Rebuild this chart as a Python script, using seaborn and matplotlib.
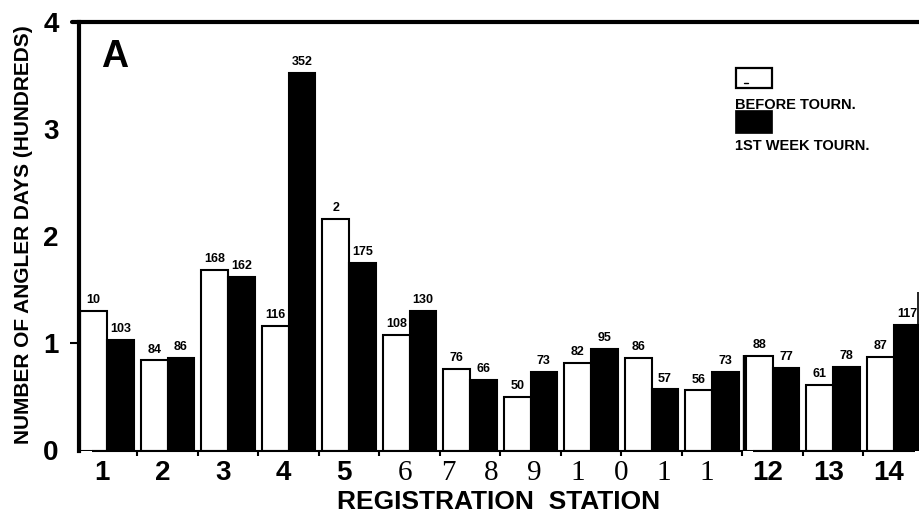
import matplotlib
matplotlib.use("Agg")
import matplotlib.pyplot as plt
from matplotlib.patches import Rectangle
from matplotlib.lines import Line2D
import numpy as np
import pandas as pd
import seaborn as sns

# Angler days per registration station (hundreds)
stations = [str(i) for i in range(1, 15)]
periods = ["BEFORE TOURN.", "1ST WEEK TOURN."]
before_days = [130, 84, 168, 116, 216, 108, 76, 50, 82, 86, 56, 88, 61, 87]
week1_days = [103, 86, 162, 352, 175, 130, 66, 73, 95, 57, 73, 77, 78, 117]
before_text = ["10", "84", "168", "116", "2", "108", "76", "50", "82", "86", "56", "88", "61", "87"]
week1_text = ["103", "86", "162", "352", "175", "130", "66", "73", "95", "57", "73", "77", "78", "117"]
sans_ticks = ["1", "2", "3", "4", "5", "12", "13", "14"]
serif_ticks = ["6", "7", "8", "9", "1", "0", "1", "1"]
y_ticks = [0, 1, 2, 3, 4]

df = pd.DataFrame({
    "station": stations * 2,
    "period": [periods[0]] * len(stations) + [periods[1]] * len(stations),
    "hundreds": np.array(before_days + week1_days) / 100.0,
})

sns.set_style("white")
plt.rcParams["font.family"] = ["Liberation Sans", "DejaVu Sans"]
plt.rcParams.update({
    "text.color": "black",
    "axes.labelcolor": "black",
    "xtick.color": "black",
    "ytick.color": "black",
})

W, H = 919, 521
fig = plt.figure(figsize=(W / 100, H / 100), dpi=100)
left, right, bottom, top = 79, 919, 450.5, 21.5
ax = fig.add_axes([left / W, 1 - bottom / H, (right - left) / W, (bottom - top) / H])

sns.barplot(data=df, x="station", y="hundreds", hue="period", order=stations,
            hue_order=periods, palette=["white", "black"], saturation=1,
            edgecolor="black", linewidth=1.5, width=0.88, legend=False, ax=ax)

for cont, labels in zip(ax.containers, [before_text, week1_text]):
    ax.bar_label(cont, labels=labels, padding=3.5, fontsize=9, fontweight="bold",
                 color="black")

ax.set_xlim(-0.463, 13.42)
ax.set_ylim(0, 4)

# frame: heavy left and top rules, broken baseline
for s in ["top", "right", "bottom"]:
    ax.spines[s].set_visible(False)
ax.spines["left"].set_linewidth(3)
ax.spines["left"].set_color("black")
ax.add_line(Line2D([-0.0083, 1.0], [1, 1], transform=ax.transAxes, color="black",
                   lw=3, clip_on=False))
ax.hlines(0, -0.248, 10.51, color="black", lw=1.5, clip_on=False)
ax.hlines(0, 10.68, 13.36, color="black", lw=1.5, clip_on=False)
ax.vlines(10.53, 0, 0.89, color="black", lw=1.7)
ax.vlines(13.40, 0.07, 1.48, color="black", lw=1.2, clip_on=False)

# y axis
ax.set_yticks(y_ticks)
ax.set_yticklabels([str(v) for v in y_ticks], fontsize=20, fontweight="bold")
ax.tick_params(axis="y", length=6.5, width=1.5, pad=8, colors="black")
for tk, v in zip(ax.yaxis.get_major_ticks(), y_ticks):
    tk.tick1line.set_visible(v == 1)
ax.set_ylabel("NUMBER OF ANGLER DAYS (HUNDREDS)", fontsize=15, fontweight="bold",
              color="black")
ax.yaxis.set_label_coords((23.5 - left) / (right - left), (bottom - 235) / (bottom - top))
ax.yaxis.label.set_va("center")

# x axis: labels and boundary ticks
tick_pos = list(np.arange(5) - 0.08) + list(np.linspace(4.93, 9.92, 8)) + list(np.arange(11, 14) - 0.08)
tick_lab = sans_ticks[:5] + serif_ticks + sans_ticks[5:]
ax.set_xticks(tick_pos)
ax.set_xticklabels(tick_lab)
for i, lab in enumerate(ax.get_xticklabels()):
    lab.set_color("black")
    if 5 <= i < 13:
        lab.set_fontfamily(["Liberation Serif", "DejaVu Serif"])
        lab.set_fontsize(21)
        lab.set_fontweight("normal")
    else:
        lab.set_fontsize(20)
        lab.set_fontweight("bold")
ax.set_xticks(np.arange(0.5, 13, 1), minor=True)
ax.tick_params(axis="x", which="major", length=0, pad=7, colors="black")
ax.tick_params(axis="x", which="minor", length=3.5, width=1.5, direction="out",
               bottom=True, colors="black")
ax.set_xlabel("REGISTRATION  STATION", fontsize=19, fontweight="bold", color="black")
ax.xaxis.set_label_coords(0.5, (bottom - 502) / (bottom - top))
ax.xaxis.label.set_va("center")

# panel letter
fig.text(115 / W, 1 - 57 / H, "A", ha="center", va="center", fontsize=27,
         fontweight="bold", color="black")


def px_rect(x0, y0, x1, y1, **kw):
    fig.add_artist(Rectangle((x0 / W, 1 - y1 / H), (x1 - x0) / W, (y1 - y0) / H,
                             transform=fig.transFigure, **kw))


# legend
px_rect(736, 68, 772, 88, facecolor="white", edgecolor="black", lw=1.6)
fig.add_artist(Line2D([744 / W, 748 / W], [1 - 83 / H, 1 - 83 / H], transform=fig.transFigure,
                      color="black", lw=1))
fig.text(735 / W, 1 - 105 / H, periods[0], ha="left", va="center", fontsize=10.5,
         fontweight="bold", color="black")
px_rect(735, 110, 772, 133, facecolor="black", edgecolor="black", lw=0.5)
fig.text(735 / W, 1 - 146 / H, periods[1], ha="left", va="center", fontsize=10.5,
         fontweight="bold", color="black")

fig.savefig("out.png", dpi=100)
